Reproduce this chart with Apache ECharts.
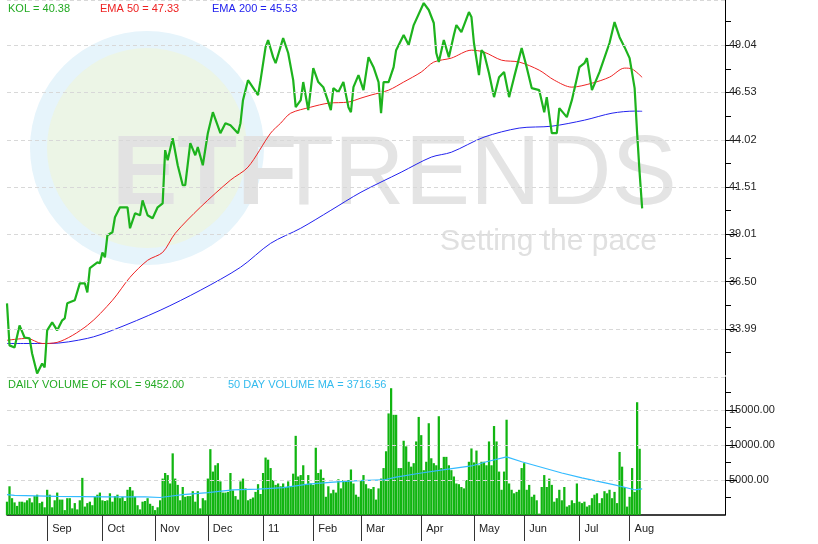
<!DOCTYPE html>
<html style="height: 100%">
  <head>
    <meta charset="utf-8" />
    <title>KOL</title>
    <script src="https://cdn.jsdelivr.net/npm/echarts@6/dist/echarts.min.js"></script>
  </head>
  <body style="height: 100%; margin: 0; background: #fff">
    <div id="main" style="width: 818px; height: 544px"></div>
    <script type="text/javascript">
      // trading-day index -> value
      var kol = [[0,35.35],[1,33.12],[3,33.01],[5,34.18],[7,33.54],[9,33.49],[10,32.69],[12,31.63],[14,32.16],[15,31.95],[16,33.92],[18,34.34],[20,33.92],[22,34.45],[23,34.55],[24,35.35],[27,35.51],[29,36.41],[31,36.41],[32,35.93],[33,37.21],[36,37.52],[37,37.47],[38,38.05],[39,37.79],[40,38.96],[42,39.12],[43,39.91],[45,40.44],[48,40.44],[49,39.33],[51,40.12],[53,40.02],[54,40.81],[56,40.02],[58,39.86],[60,40.44],[62,40.65],[63,43.47],[64,42.94],[66,44.10],[68,42.67],[70,41.61],[71,41.61],[73,43.84],[75,43.20],[76,43.63],[78,42.67],[80,44.37],[82,45.48],[85,44.37],[87,44.90],[89,44.79],[92,44.37],[93,44.90],[94,46.12],[96,47.18],[100,46.39],[101,47.18],[103,48.93],[104,49.31],[106,48.40],[107,48.08],[110,49.41],[112,48.62],[114,47.18],[115,45.75],[117,46.12],[118,47.08],[120,45.59],[122,47.82],[124,47.08],[126,46.81],[128,46.02],[129,45.59],[130,46.76],[132,46.55],[134,47.08],[136,45.75],[137,45.48],[138,46.81],[140,47.45],[142,46.65],[144,48.40],[146,47.87],[148,47.08],[149,45.43],[150,47.08],[152,47.08],[154,47.87],[155,48.77],[158,49.57],[160,49.04],[162,50.10],[166,51.27],[168,50.90],[170,50.21],[171,48.62],[172,48.14],[174,49.31],[176,48.40],[178,49.57],[179,50.10],[181,49.73],[184,50.79],[185,50.53],[186,49.15],[188,47.45],[189,48.77],[190,48.62],[192,47.55],[194,46.28],[196,47.34],[198,47.61],[200,46.28],[202,47.34],[205,48.88],[207,47.87],[209,46.76],[212,46.65],[214,45.48],[215,46.28],[217,44.37],[219,44.37],[220,45.70],[223,45.22],[225,46.12],[228,47.87],[230,48.08],[231,48.35],[233,46.65],[236,47.61],[240,49.15],[242,50.26],[244,49.46],[246,48.93],[248,48.35],[250,46.76],[251,44.37],[252,42.25],[253,40.38]];
      var ema50 = [[0,33.39],[8,33.49],[14,33.22],[20,33.28],[32,34.18],[42,35.51],[49,36.73],[56,37.63],[62,38.05],[67,39.06],[77,40.44],[89,41.88],[96,42.57],[105,44.37],[109,44.90],[113,45.43],[121,45.75],[128,45.96],[136,46.02],[141,46.23],[145,46.39],[152,46.65],[158,47.08],[165,47.61],[170,48.14],[177,48.35],[185,48.77],[190,48.67],[197,48.24],[204,48.14],[212,47.71],[218,47.18],[225,46.81],[233,47.02],[240,47.34],[246,47.82],[249,47.77],[253,47.33]];
      var ema200 = [[0,33.22],[17,33.22],[32,33.49],[42,33.92],[61,34.98],[77,36.04],[93,37.26],[105,38.53],[117,39.33],[129,40.28],[141,41.24],[157,42.30],[169,43.10],[177,43.36],[190,44.16],[204,44.64],[217,44.74],[230,45.06],[241,45.43],[250,45.54],[253,45.53]];
      var volume = [
        1900,4100,2400,1800,1300,1900,1900,1800,2100,2400,1800,2700,2900,1700,1900,1100,3600,2900,1100,2100,3200,2200,2200,700,2400,2400,950,1700,800,2100,5300,1200,
        1700,1900,1400,2600,2900,3200,2100,2000,2100,3100,1900,2700,2900,2400,2600,2000,3600,4000,3500,2600,1400,800,1900,2000,2400,1600,1300,700,1100,2100,5200,6000,
        5700,4500,8800,5200,4300,2100,4000,2600,2700,2700,3400,1900,3400,950,2400,2100,5200,9400,6200,7100,7400,4800,3200,3200,3300,6000,3500,2700,2200,4800,5200,3800,
        2100,2300,2500,3300,4400,3000,6000,8200,7900,6700,5000,4300,4500,4100,4500,4000,4800,4000,5900,11300,5500,5700,7100,4300,5700,4500,4300,9600,6000,6500,
        5300,2600,4100,3100,3600,3200,5100,3800,5000,5000,5000,6500,4500,2900,2600,5000,5700,4400,3800,3700,4000,2200,3800,5200,6700,9100,14500,18100,14300,14300,6700,6700,
        10600,9800,7600,6900,7400,10500,14000,11400,6400,7600,13100,8100,7400,7100,14100,6700,8300,8300,7100,6400,5500,4500,4400,4000,3800,5000,7600,9500,7500,9200,7100,7600,7600,7100,
        10500,7100,12700,10500,6200,3600,6200,13600,4500,3600,3100,3300,3600,6700,7400,3600,4300,2600,2900,2100,200,4000,5700,4000,5200,4300,1900,2400,3600,2100,4000,1200,
        1400,2100,1700,4500,1900,1700,1900,1200,1400,2400,2900,3100,1700,2400,3400,3100,3600,2400,3300,1700,9000,6900,4000,1200,2600,6700,3300,16100,9452
      ];
      var volumeMA = [[0,2900],[3,2800],[20,2650],[40,2600],[55,2600],[61,2500],[70,2900],[80,3200],[90,3600],[100,3700],[110,3900],[120,4400],[130,4700],[140,4900],[150,5000],[155,5400],[165,6000],[175,6500],[185,7000],[191,7600],[199,8300],[205,7600],[221,6000],[229,5300],[242,4300],[250,3600],[253,3717]];
      var monthTicks = [16, 38, 59, 80, 102, 122, 141, 165, 186, 206, 228, 248];
      var monthNames = ["Sep", "Oct", "Nov", "Dec", "11", "Feb", "Mar", "Apr", "May", "Jun", "Jul", "Aug"];
      var priceTicks = [33.99, 36.50, 39.01, 41.51, 44.02, 46.53, 49.04];
      var priceMinor = [32.735, 35.245, 37.755, 40.26, 42.765, 45.275, 47.785, 50.295];
      var volTicks = [5000, 10000, 15000];
      var volMinor = [2500, 7500, 12500, 17500];
      var nDays = 287;

      var days = [];
      for (var i = 0; i < nDays; i++) days.push(i);

      var font = "Liberation Sans";
      var gridLine = { color: "#d8d8d8", type: [4, 3], width: 1 };

      function hLines(vals) {
        return {
          silent: true, symbol: "none", label: { show: false },
          lineStyle: gridLine, animation: false,
          data: vals.map(function (v) { return [{ xAxis: 0, yAxis: v }, { xAxis: nDays - 1, yAxis: v }]; }),
        };
      }

      var myChart = echarts.init(document.getElementById("main"));
      var option = {
        animation: false,
        textStyle: { fontFamily: font },
        graphic: [
          { type: "circle", shape: { cx: 147, cy: 148, r: 117 }, style: { fill: "#e6f4fb" }, z: -10 },
          { type: "circle", shape: { cx: 147, cy: 148, r: 100 }, style: { fill: "#ecf5e6" }, z: -10 },
          { type: "text", left: 112, top: 128, z: -9, style: { text: "ETF", font: "bold 98px " + font, fill: "#e2e2e2" } },
          { type: "text", left: 274, top: 128, z: -9, style: { text: "TRENDS", font: "98px " + font, fill: "#e4e4e4" } },
          { type: "text", left: 440, top: 227, z: -9, style: { text: "Setting the pace", font: "30px " + font, fill: "#e0e0e0" } },
          { type: "text", left: 8, top: 3, style: { text: "KOL = 40.38", font: "11px " + font, fill: "#22aa22" } },
          { type: "text", left: 100, top: 3, style: { text: "EMA 50 = 47.33", font: "11px " + font, fill: "#ee2222" } },
          { type: "text", left: 212, top: 3, style: { text: "EMA 200 = 45.53", font: "11px " + font, fill: "#2222ee" } },
          { type: "text", left: 8, top: 379, style: { text: "DAILY VOLUME OF KOL = 9452.00", font: "11px " + font, fill: "#22aa22" } },
          { type: "text", left: 228, top: 379, style: { text: "50 DAY VOLUME MA = 3716.56", font: "11px " + font, fill: "#33bbee" } },
        ],
        grid: [
          { left: 7, right: 93, top: 0, bottom: 169 },
          { left: 7, right: 93, top: 377, bottom: 29 },
        ],
        xAxis: [
          { type: "category", gridIndex: 0, data: days, show: false, boundaryGap: false },
          {
            type: "category", gridIndex: 1, data: days, boundaryGap: false,
            axisLine: { lineStyle: { color: "#000", width: 1.5 } },
            axisTick: {
              length: 26, inside: false, lineStyle: { color: "#333" },
              interval: function (idx) { return monthTicks.indexOf(idx) >= 0; },
            },
            axisLabel: {
              interval: function (idx) { return monthTicks.indexOf(idx) >= 0; },
              formatter: function (v) { return monthNames[monthTicks.indexOf(Number(v))]; },
              align: "left", padding: [0, 0, 0, 5], margin: 8,
              color: "#222", fontSize: 11, fontFamily: font,
            },
            splitLine: { show: false },
          },
        ],
        yAxis: [
          {
            type: "value", gridIndex: 0, position: "right", min: 31.55, max: 51.43,
            axisLine: { show: true, lineStyle: { color: "#000" } },
            axisTick: { show: true, length: 12, lineStyle: { color: "#000" }, customValues: priceTicks },
            axisLabel: { customValues: priceTicks, formatter: function (v) { return v.toFixed(2); }, color: "#222", fontSize: 11, margin: 4, fontFamily: font },
            splitLine: { show: false },
          },
          {
            type: "value", gridIndex: 0, position: "right", min: 31.55, max: 51.43,
            axisLine: { show: false }, axisLabel: { show: false },
            axisTick: { show: true, length: 6, lineStyle: { color: "#000" }, customValues: priceMinor },
            splitLine: { show: false },
          },
          {
            type: "value", gridIndex: 1, position: "right", min: 0, max: 19700,
            axisLine: { show: true, lineStyle: { color: "#000" } },
            axisTick: { show: true, length: 12, lineStyle: { color: "#000" }, customValues: volTicks },
            axisLabel: { customValues: volTicks, formatter: function (v) { return v.toFixed(2); }, color: "#222", fontSize: 11, margin: 4, fontFamily: font },
            splitLine: { show: false },
          },
          {
            type: "value", gridIndex: 1, position: "right", min: 0, max: 19700,
            axisLine: { show: false }, axisLabel: { show: false },
            axisTick: { show: true, length: 6, lineStyle: { color: "#000" }, customValues: volMinor },
            splitLine: { show: false },
          },
        ],
        series: [
          {
            name: "EMA 200", type: "line", xAxisIndex: 0, yAxisIndex: 0, data: ema200,
            symbol: "none", smooth: 0.3, lineStyle: { color: "#2222ee", width: 1 },
            markLine: hLines(priceTicks.concat([51.43])),
          },
          { name: "EMA 50", type: "line", xAxisIndex: 0, yAxisIndex: 0, data: ema50, symbol: "none", smooth: 0.3, lineStyle: { color: "#ee2222", width: 1 } },
          { name: "KOL", type: "line", xAxisIndex: 0, yAxisIndex: 0, data: kol, symbol: "none", lineStyle: { color: "#1db31d", width: 2.2 } },
          {
            name: "Volume", type: "bar", xAxisIndex: 1, yAxisIndex: 2, data: volume,
            barCategoryGap: "10%", itemStyle: { color: "#11b511" },
            markLine: hLines(volTicks.concat([19700])),
          },
          { name: "Volume MA", type: "line", xAxisIndex: 1, yAxisIndex: 2, data: volumeMA, symbol: "none", lineStyle: { color: "#33bbff", width: 1.2 } },
        ],
      };
      myChart.setOption(option);
    </script>
  </body>
</html>
